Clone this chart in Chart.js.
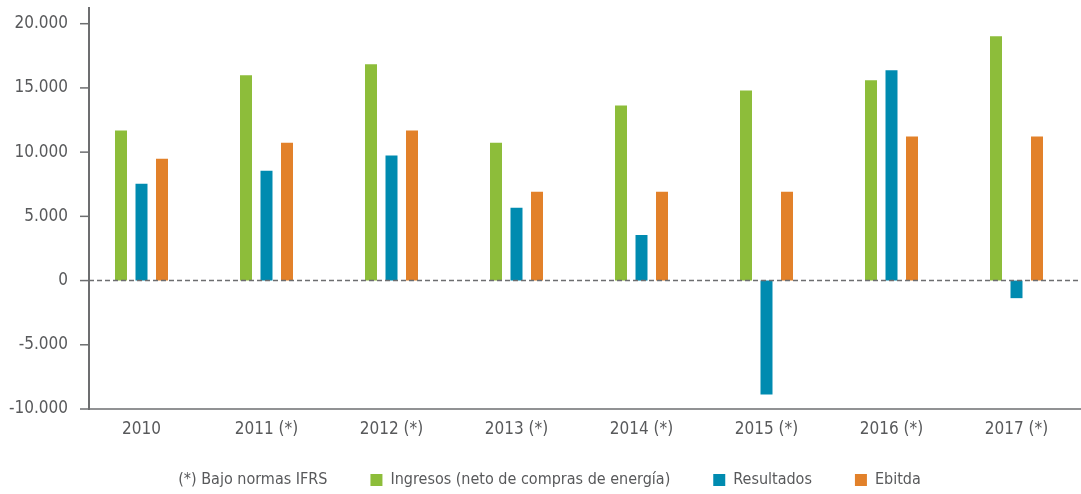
<!DOCTYPE html>
<html>
<head>
<meta charset="utf-8">
<title>Ingresos, Resultados y Ebitda</title>
<script src="https://cdn.jsdelivr.net/npm/chart.js@4.4.1/dist/chart.umd.min.js"></script>
<style>
  html, body { margin: 0; padding: 0; background: #fff; }
  #wrap { width: 1081px; height: 494px; }
</style>
</head>
<body>
<div id="wrap"><canvas id="grafico"></canvas></div>
<script>
// datos
const years = ['2010', '2011 (*)', '2012 (*)', '2013 (*)', '2014 (*)', '2015 (*)', '2016 (*)', '2017 (*)'];
const ingresos = [11680, 15980, 16840, 10740, 13630, 14800, 15590, 19020];
const resultados = [7540, 8550, 9730, 5660, 3550, -8870, 16370, -1370];
const ebitda = [9490, 10740, 11680, 6910, 6910, 6910, 11210, 11210];
const yTicks = [-10000, -5000, 0, 5000, 10000, 15000, 20000];
const nota = '(*) Bajo normas IFRS';

const gris = '#58595b';
const verde = '#8dbd3a';
const azul = '#008bb0';
const naranja = '#e2812a';

Chart.defaults.font.family = "'DejaVu Sans Condensed', 'DejaVu Sans', sans-serif";
Chart.defaults.color = gris;

// separador de miles con punto
function miles(v) {
  return String(v).replace(/\B(?=(\d{3})+(?!\d))/g, '.');
}

// ejes dibujados a mano: linea vertical, marcas, linea del cero punteada
const ejes = {
  id: 'ejes',
  afterLayout(chart) {
    // subir la leyenda hacia las etiquetas, como en el original
    const l = chart.legend;
    l.top -= 10;
    l.height = l.bottom - l.top;
  },
  afterDatasetsDraw(chart) {
    const { ctx, chartArea: a, scales: { y } } = chart;
    const x0 = a.left + 10;
    const line = (x1, y1, x2, y2) => {
      ctx.beginPath(); ctx.moveTo(x1, y1); ctx.lineTo(x2, y2); ctx.stroke();
    };
    ctx.save();
    ctx.strokeStyle = '#6d6e70';
    ctx.lineWidth = 1.6;
    ctx.setLineDash([5, 3]);
    const y0 = y.getPixelForValue(0);
    line(x0, y0, chart.width, y0);
    ctx.setLineDash([]);
    line(x0, a.bottom, chart.width, a.bottom);
    ctx.lineWidth = 2;
    line(x0, a.top, x0, a.bottom + 1);
    ctx.lineWidth = 1.5;
    y.ticks.forEach(t => {
      const p = y.getPixelForValue(t.value);
      line(x0 - 9, p, x0, p);
    });
    ctx.restore();
  }
};

const ctx = document.getElementById('grafico').getContext('2d');
new Chart(ctx, {
  type: 'bar',
  data: {
    labels: years,
    datasets: [
      { label: 'Ingresos (neto de compras de energía)', data: ingresos, backgroundColor: verde },
      { label: 'Resultados', data: resultados, backgroundColor: azul },
      { label: 'Ebitda', data: ebitda, backgroundColor: naranja }
    ]
  },
  options: {
    responsive: true,
    maintainAspectRatio: false,
    animation: false,
    categoryPercentage: 0.492,
    barPercentage: 0.585,
    layout: { padding: { top: 7, right: 2, left: 0, bottom: 0 } },
    scales: {
      x: {
        grid: { display: false, drawTicks: false },
        border: { display: false },
        afterFit: s => { s.height = 30; },
        ticks: { padding: 10, font: { size: 17 } }
      },
      y: {
        min: -10000,
        max: 21300,
        grid: { display: false, drawTicks: false },
        border: { display: false },
        afterBuildTicks: s => { s.ticks = yTicks.map(v => ({ value: v })); },
        afterFit: s => { s.width = 79; s.paddingTop = 0; s.paddingBottom = 0; },
        ticks: { padding: 11, font: { size: 17 }, callback: v => miles(v) }
      }
    },
    plugins: {
      tooltip: { enabled: false },
      legend: {
        position: 'bottom',
        maxHeight: 55,
        labels: {
          boxWidth: 12,
          boxHeight: 12,
          padding: 43,
          font: { size: 16 },
          generateLabels: chart => {
            const items = Chart.defaults.plugins.legend.labels.generateLabels(chart);
            items.forEach(it => { it.lineWidth = 0; it.strokeStyle = 'rgba(0,0,0,0)'; });
            items.unshift({ text: nota, fillStyle: 'rgba(0,0,0,0)', strokeStyle: 'rgba(0,0,0,0)', lineWidth: 0, fontColor: gris, hidden: false, datasetIndex: -1 });
            return items;
          }
        }
      }
    }
  },
  plugins: [ejes]
});
</script>
</body>
</html>
